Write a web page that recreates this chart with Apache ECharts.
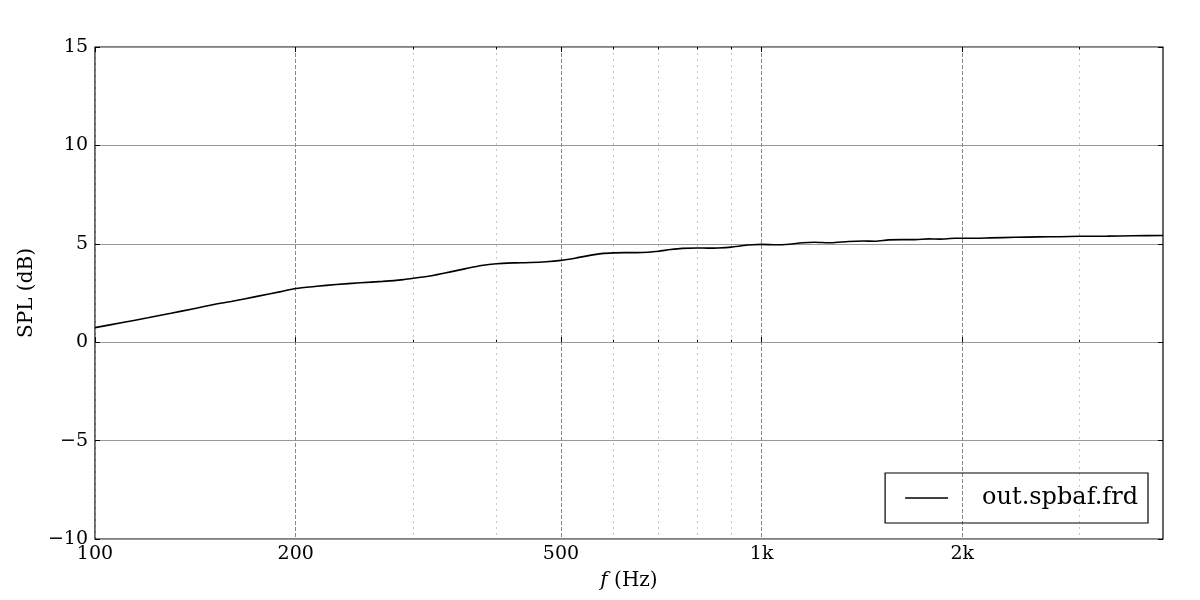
<!DOCTYPE html>
<html>
<head>
<meta charset="utf-8">
<script src="https://cdn.jsdelivr.net/npm/echarts@6/dist/echarts.min.js"></script>
<style>html,body{margin:0;padding:0;background:#fff}#c{width:1200px;height:600px}</style>
</head>
<body>
<div id="c"></div>
<script>
const freqs = [100,110,120,130,140,150,160,175,190,200,215,230,250,270,290,300,320,340,360,380,400,425,450,475,500,525,550,575,600,625,650,675,700,730,760,800,830,860,900,940,970,1000,1050,1100,1150,1200,1270,1350,1420,1480,1550,1620,1700,1780,1850,1950,2050,2200,2400,2600,2800,3000,3300,3600,4000];
const spl = [0.74,1.00,1.24,1.47,1.69,1.90,2.07,2.33,2.57,2.73,2.84,2.93,3.02,3.09,3.18,3.25,3.38,3.56,3.74,3.90,3.99,4.03,4.05,4.09,4.16,4.27,4.40,4.50,4.54,4.55,4.55,4.57,4.62,4.71,4.77,4.79,4.78,4.79,4.83,4.91,4.95,4.97,4.95,4.98,5.05,5.08,5.05,5.12,5.14,5.13,5.20,5.21,5.21,5.25,5.24,5.28,5.28,5.30,5.33,5.35,5.36,5.38,5.39,5.41,5.42];
const majorTicks = [100,200,500,1000,2000];
const minorTicks = [300,400,600,700,800,900,3000];
const yTicks = [-10,-5,0,5,10,15];
const seriesName = 'out.spbaf.frd';
const fMin = 100, fMax = 4000;

const L = Math.log10;
const font = 'DejaVu Serif';
const fmtHz = v => { const f = Math.round(Math.pow(10, v)); return f >= 1000 ? (f/1000) + 'k' : String(f); };
const fmtY = v => v < 0 ? '\u2212' + Math.abs(v) : String(v);

const chart = echarts.init(document.getElementById('c'));
const common = { type: 'value', min: L(fMin), max: L(fMax) };
chart.setOption({
  backgroundColor: '#fff',
  animation: false,
  grid: { left: 95, right: 37, top: 47, bottom: 61, show: true, borderColor: '#000', borderWidth: 1.2, backgroundColor: 'transparent', containLabel: false },
  legend: {
    right: 52, bottom: 77, orient: 'vertical',
    borderColor: '#000', borderWidth: 1.2, borderRadius: 0,
    padding: [13, 10, 13, 20],
    itemWidth: 43, itemHeight: 14,
    textStyle: { fontFamily: font, fontSize: 24, color: '#000', padding: [0, 0, 0, 29] },
    data: [{ name: seriesName, icon: 'path://M0,0 L43,0 L43,1.5 L0,1.5 Z', itemStyle: { color: '#000' } }]
  },
  xAxis: [
    Object.assign({}, common, {
      position: 'bottom',
      name: '{i|f} (Hz)', nameLocation: 'middle', nameGap: 32,
      nameTextStyle: { fontFamily: font, fontSize: 20, color: '#000', rich: { i: { fontFamily: font, fontStyle: 'italic', fontSize: 20, color: '#000' } } },
      axisLine: { show: false },
      axisTick: { show: true, inside: true, length: 5, customValues: majorTicks.map(L), lineStyle: { color: '#000' } },
      axisLabel: { show: true, customValues: majorTicks.map(L), formatter: fmtHz, fontFamily: font, fontSize: 19, color: '#000', margin: 6 },
      splitLine: { show: true, lineStyle: { color: '#888', type: [4, 2], width: 1 } }
    }),
    Object.assign({}, common, {
      position: 'bottom',
      axisLine: { show: false },
      axisTick: { show: true, inside: true, length: 2.5, customValues: minorTicks.map(L), lineStyle: { color: '#000' } },
      axisLabel: { show: false },
      splitLine: { show: true, lineStyle: { color: '#c4c4c4', type: [2, 4], width: 1 } }
    }),
    Object.assign({}, common, {
      position: 'top',
      axisLine: { show: false },
      axisTick: { show: true, inside: true, length: 5, customValues: majorTicks.map(L), lineStyle: { color: '#000' } },
      axisLabel: { show: false },
      splitLine: { show: false }
    }),
    Object.assign({}, common, {
      position: 'top',
      axisLine: { show: false },
      axisTick: { show: true, inside: true, length: 2.5, customValues: minorTicks.map(L), lineStyle: { color: '#000' } },
      axisLabel: { show: false },
      splitLine: { show: false }
    })
  ],
  yAxis: [
    {
      type: 'value', min: yTicks[0], max: yTicks[yTicks.length - 1], interval: 5, position: 'left',
      name: 'SPL (dB)', nameLocation: 'middle', nameGap: 58,
      nameTextStyle: { fontFamily: font, fontSize: 20, color: '#000' },
      axisLine: { show: false },
      axisTick: { show: true, inside: true, length: 5, lineStyle: { color: '#000' } },
      axisLabel: { formatter: fmtY, fontFamily: font, fontSize: 19, color: '#000', margin: 7 },
      splitLine: { show: true, lineStyle: { color: '#999', width: 1 } }
    },
    {
      type: 'value', min: yTicks[0], max: yTicks[yTicks.length - 1], interval: 5, position: 'right',
      axisLine: { show: false },
      axisTick: { show: true, inside: true, length: 5, lineStyle: { color: '#000' } },
      axisLabel: { show: false },
      splitLine: { show: false }
    }
  ],
  series: [{
    name: seriesName, type: 'line', xAxisIndex: 0, yAxisIndex: 0,
    data: freqs.map((f, i) => [L(f), spl[i]]),
    showSymbol: false, smooth: 0.25,
    lineStyle: { color: '#000', width: 1.6 },
    itemStyle: { color: '#000' }
  }]
});
</script>
</body>
</html>
